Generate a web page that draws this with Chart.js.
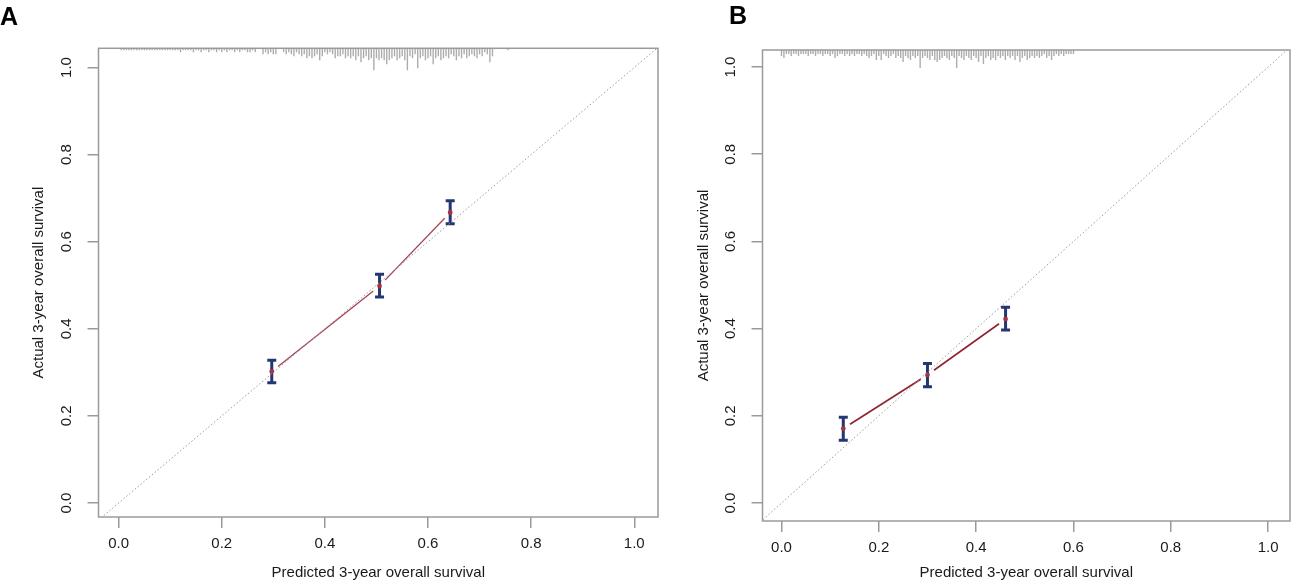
<!DOCTYPE html>
<html>
<head>
<meta charset="utf-8">
<title>Calibration curves</title>
<script src="https://cdn.jsdelivr.net/npm/chart.js@4.4.1/dist/chart.umd.min.js"></script>
<style>
  html, body { margin: 0; padding: 0; background: #fff; }
  #figure { position: relative; width: 1294px; height: 582px; overflow: hidden; }
  #figure canvas { position: absolute; top: 0; }
  #chart-a { left: 0; }
  #chart-b { left: 665px; }
  .panel-letter { position: absolute; font: bold 25px "Liberation Sans", Arial, sans-serif; color: #000; }
</style>
</head>
<body>
<div id="figure">
  <canvas id="chart-a" width="665" height="582"></canvas>
  <canvas id="chart-b" width="629" height="582"></canvas>
  <div class="panel-letter" style="left:0px;top:2px">A</div>
  <div class="panel-letter" style="left:729px;top:1px">B</div>
</div>
<script>
const tickValues = [0, 0.2, 0.4, 0.6, 0.8, 1.0];
const tickLabels = ['0.0', '0.2', '0.4', '0.6', '0.8', '1.0'];
const xTitle = 'Predicted 3-year overall survival';
const yTitle = 'Actual 3-year overall survival';
const idealLine = [-0.1, 1.1];

// panel A: grouped calibration points (mean predicted vs observed, with CI)
const predictedA = [0.297, 0.506, 0.643];
const observedA = [0.302, 0.4985, 0.667];
const lowerA = [0.276, 0.473, 0.641];
const upperA = [0.328, 0.525, 0.694];
// spike histogram of predicted values along the top, bins of 0.005 from 0.005
const rugStartA = 0.005;
const rugCountsA = [
  1, 1, 1, 1, 1, 1, 1, 1, 1, 1,
  1, 1, 1, 1, 1, 1, 1, 1, 1, 1,
  1, 1, 1, 2, 1, 1, 1, 1, 2, 1,
  1, 2, 1, 1, 2, 1, 1, 2, 1, 2,
  1, 2, 1, 1, 2, 1, 2, 1, 1, 2,
  2, 1, 2, 0, 0, 3, 2, 3, 2, 3,
  3, 0, 0, 2, 3, 2, 3, 4, 2, 3,
  4, 3, 5, 4, 5, 4, 3, 6, 4, 2,
  3, 2, 3, 5, 4, 4, 3, 5, 4, 5,
  4, 6, 4, 7, 5, 4, 6, 5, 11, 5,
  6, 5, 6, 8, 6, 5, 4, 6, 5, 4,
  6, 11, 4, 5, 3, 10, 5, 4, 6, 5,
  4, 8, 5, 4, 6, 5, 4, 5, 3, 4,
  6, 4, 5, 3, 5, 4, 3, 4, 5, 3,
  4, 2, 3, 7, 4, 0, 0, 0, 0, 0,
  1
];

// panel B
const predictedB = [0.127, 0.300, 0.4605];
const observedB = [0.171, 0.294, 0.422];
const lowerB = [0.144, 0.267, 0.397];
const upperB = [0.197, 0.320, 0.449];
const rugStartB = 0.0;
const rugCountsB = [
  3, 4, 2, 2, 3, 2, 2, 3, 2, 2,
  2, 3, 2, 2, 3, 2, 2, 3, 2, 2,
  3, 2, 4, 3, 2, 2, 3, 2, 3, 2,
  3, 2, 2, 3, 2, 3, 4, 3, 2, 5,
  3, 5, 2, 3, 4, 3, 2, 4, 3, 4,
  6, 3, 4, 5, 3, 4, 3, 9, 4, 3,
  4, 5, 3, 5, 6, 5, 4, 3, 4, 5,
  3, 4, 9, 3, 4, 5, 3, 4, 5, 3,
  4, 6, 3, 7, 4, 3, 5, 4, 5, 3,
  4, 3, 5, 3, 4, 3, 5, 3, 6, 4,
  3, 5, 4, 3, 4, 3, 4, 3, 2, 4,
  3, 5, 3, 2, 3, 2, 3, 2, 2, 2,
  2
];
const rugStep = 0.005;

const fontFamily = '"Liberation Sans", Arial, Helvetica, sans-serif';
const textColor = '#1a1a1a';
const axisColor = '#9a9a9a';

// rug at the top and the box around the plot region
const panelDecor = {
  id: 'panelDecor',
  beforeDatasetsDraw(chart, args, opts) {
    const { ctx, chartArea, scales: { x } } = chart;
    ctx.save();
    ctx.strokeStyle = '#adadad';
    ctx.lineWidth = 1.4;
    opts.counts.forEach((n, i) => {
      if (!n) return;
      const px = x.getPixelForValue(opts.start + i * rugStep);
      ctx.beginPath();
      ctx.moveTo(px, chartArea.top);
      ctx.lineTo(px, chartArea.top + n * 2);
      ctx.stroke();
    });
    ctx.restore();
  },
  afterDraw(chart) {
    const { ctx, chartArea } = chart;
    ctx.save();
    ctx.strokeStyle = axisColor;
    ctx.lineWidth = 1.5;
    ctx.strokeRect(chartArea.left, chartArea.top, chartArea.width, chartArea.height);
    ctx.restore();
  }
};

// error bars and the connecting line (broken near each point, like type = "b")
const calibDecor = {
  id: 'calibDecor',
  beforeDatasetDraw(chart, args) {
    const ds = chart.data.datasets[args.index];
    if (!ds.errLow) return;
    const { ctx, scales: { y } } = chart;
    const pts = args.meta.data;
    ctx.save();
    ctx.strokeStyle = ds.lineColor;
    ctx.lineWidth = ds.lineWidth;
    for (let i = 0; i < pts.length - 1; i++) {
      const p = pts[i];
      const q = pts[i + 1];
      const dx = q.x - p.x;
      const dy = q.y - p.y;
      const g = ds.gap / Math.hypot(dx, dy);
      ctx.beginPath();
      ctx.moveTo(p.x + dx * g, p.y + dy * g);
      ctx.lineTo(q.x - dx * g, q.y - dy * g);
      ctx.stroke();
    }
    ctx.strokeStyle = '#253772';
    ctx.lineWidth = 3;
    pts.forEach((p, i) => {
      const top = y.getPixelForValue(ds.errHigh[i]);
      const bot = y.getPixelForValue(ds.errLow[i]);
      ctx.beginPath();
      ctx.moveTo(p.x, top);
      ctx.lineTo(p.x, bot);
      ctx.moveTo(p.x - 4.5, top);
      ctx.lineTo(p.x + 4.5, top);
      ctx.moveTo(p.x - 4.5, bot);
      ctx.lineTo(p.x + 4.5, bot);
      ctx.stroke();
    });
    ctx.restore();
  }
};

function makePanel(canvas, p) {
  return new Chart(canvas, {
    type: 'scatter',
    data: {
      datasets: [{
        type: 'line',
        data: idealLine.map(v => ({ x: v, y: v })),
        borderColor: '#9a9a9a',
        borderWidth: 1,
        borderDash: [1.5, 2.2],
        pointRadius: 0
      }, {
        data: p.predicted.map((v, i) => ({ x: v, y: p.observed[i] })),
        errLow: p.lower,
        errHigh: p.upper,
        lineColor: p.lineColor,
        lineWidth: p.lineWidth,
        gap: 8,
        pointRadius: 2.4,
        pointBorderWidth: 0,
        pointBackgroundColor: '#a8323f'
      }]
    },
    options: {
      responsive: false,
      animation: false,
      events: [],
      layout: { padding: { top: p.top, right: p.right, left: 0, bottom: 0 } },
      plugins: {
        legend: { display: false },
        tooltip: { enabled: false },
        panelDecor: { start: p.rugStart, counts: p.rugCounts }
      },
      scales: {
        x: {
          type: 'linear',
          min: p.xMin,
          max: p.xMax,
          afterBuildTicks: s => { s.ticks = tickValues.map(v => ({ value: v })); },
          afterFit: s => { s.height = p.xAxisHeight; },
          grid: { drawOnChartArea: false, tickLength: 11, color: axisColor, lineWidth: 1.5 },
          border: { display: false },
          ticks: {
            padding: 7, color: textColor, autoSkip: false, maxRotation: 0,
            font: { family: fontFamily, size: 15 },
            callback: (v, i) => tickLabels[i]
          },
          title: {
            display: true, text: xTitle, color: textColor,
            font: { family: fontFamily, size: 15 },
            padding: { top: 0, bottom: 0 }
          }
        },
        y: {
          type: 'linear',
          min: p.yMin,
          max: p.yMax,
          afterBuildTicks: s => { s.ticks = tickValues.map(v => ({ value: v })); },
          afterFit: s => { s.width = p.yAxisWidth; },
          grid: { drawOnChartArea: false, tickLength: 11, color: axisColor, lineWidth: 1.5 },
          border: { display: false },
          ticks: {
            padding: 10, color: textColor, autoSkip: false,
            minRotation: 90, maxRotation: 90, crossAlign: 'center',
            font: { family: fontFamily, size: 15 },
            callback: (v, i) => tickLabels[i]
          },
          title: {
            display: true, text: yTitle, color: textColor,
            font: { family: fontFamily, size: 15 },
            padding: { top: 30, bottom: 0 }
          }
        }
      }
    },
    plugins: [panelDecor, calibDecor]
  });
}

makePanel(document.getElementById('chart-a'), {
  predicted: predictedA, observed: observedA, lower: lowerA, upper: upperA,
  rugStart: rugStartA, rugCounts: rugCountsA,
  lineColor: '#a34556', lineWidth: 1.3,
  xMin: -0.039, xMax: 1.046, yMin: -0.032, yMax: 1.044,
  top: 48.3, right: 7, yAxisWidth: 98.5, xAxisHeight: 65
});

makePanel(document.getElementById('chart-b'), {
  predicted: predictedB, observed: observedB, lower: lowerB, upper: upperB,
  rugStart: rugStartB, rugCounts: rugCountsB,
  lineColor: '#8e2233', lineWidth: 1.6,
  xMin: -0.039, xMax: 1.045, yMin: -0.041, yMax: 1.039,
  top: 50, right: 3, yAxisWidth: 97.5, xAxisHeight: 61
});
</script>
</body>
</html>
